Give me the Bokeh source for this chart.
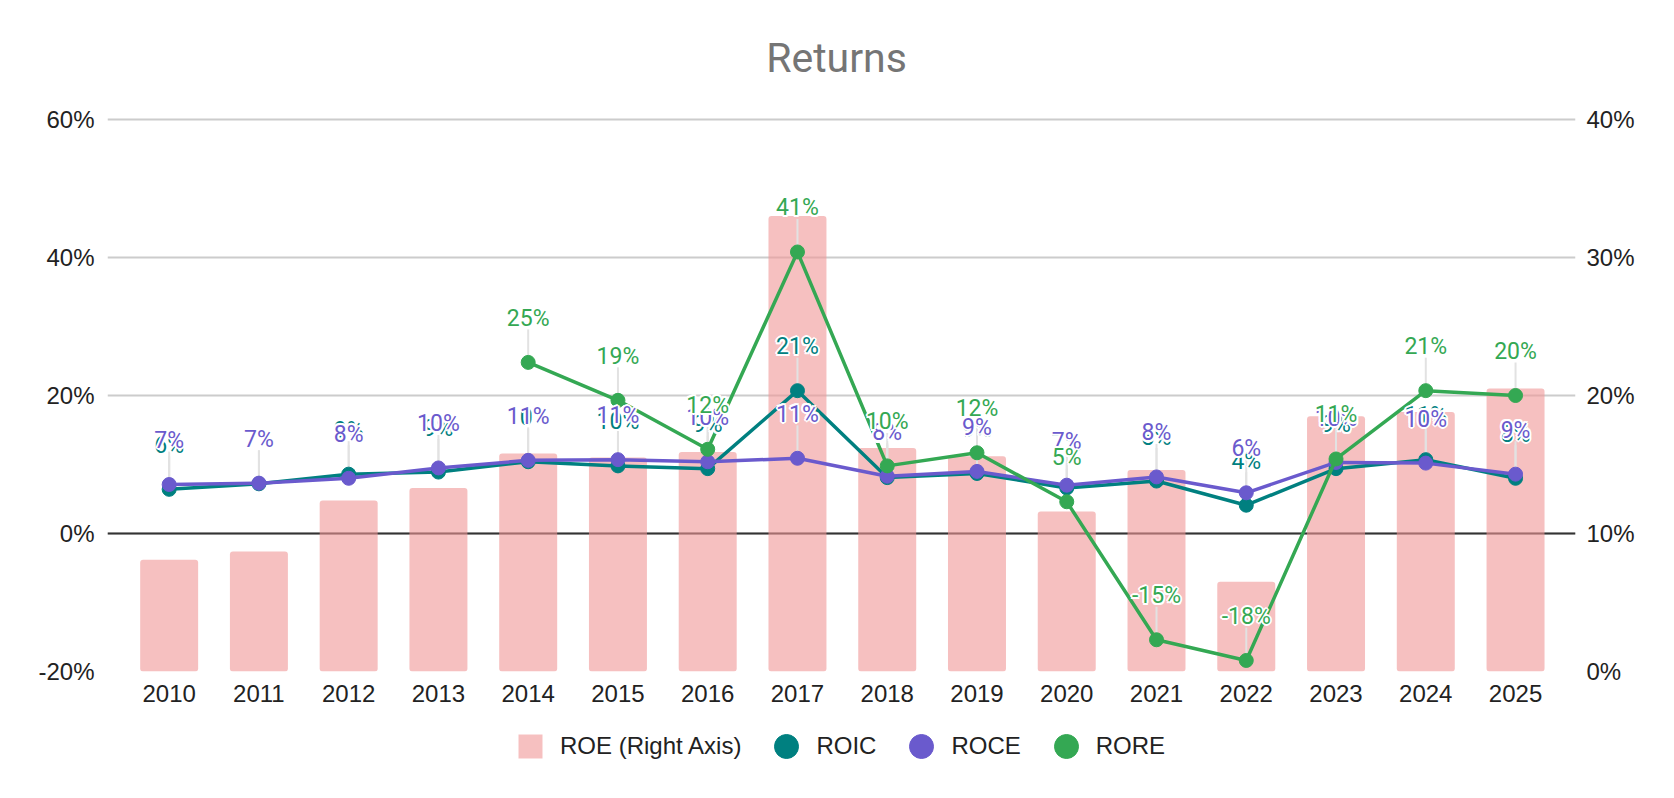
import math
from bokeh.plotting import figure
from bokeh.layouts import column
from bokeh.models import (Range1d, LinearAxis, FixedTicker, PrintfTickFormatter,
                          Span, Label, Legend, LegendItem, ColumnDataSource)
from bokeh.core.properties import value
from bokeh.embed import file_html
from bokeh.resources import INLINE

NAN = float("nan")

# ---------------- data ----------------
years = [2010, 2011, 2012, 2013, 2014, 2015, 2016, 2017,
         2018, 2019, 2020, 2021, 2022, 2023, 2024, 2025]
roe = [8.1, 8.7, 12.4, 13.3, 15.8, 15.5, 15.9, 33.0,
       16.2, 15.6, 11.6, 14.6, 6.5, 18.5, 18.8, 20.5]          # right axis
roic = [6.4, 7.2, 8.6, 8.9, 10.4, 9.8, 9.4, 20.7,
        8.1, 8.7, 6.6, 7.6, 4.1, 9.4, 10.7, 8.0]
roce = [7.1, 7.3, 8.0, 9.5, 10.6, 10.7, 10.4, 10.9,
        8.3, 9.0, 7.0, 8.2, 5.9, 10.3, 10.2, 8.6]
rore = [NAN, NAN, NAN, NAN, 24.8, 19.3, 12.2, 40.8,
        9.8, 11.7, 4.6, -15.4, -18.4, 10.8, 20.7, 20.0]
left_ticks = [-20, 0, 20, 40, 60]
right_ticks = [0, 10, 20, 30, 40]
title_text = "Returns"
series_names = ["ROE (Right Axis)", "ROIC", "ROCE", "RORE"]

# ---------------- styling ----------------
C_BAR = (240, 150, 150)
C_ROIC = "#008080"
C_ROCE = "#6a5acd"
C_RORE = "#34a853"
TICK_FONT = "Liberation Sans"
LABEL_FONT = "Roboto"

W = 1658
H1 = 718                               # main chart (frame + x labels)
H2 = 64                                # legend strip
BL, BR = 107, 83
FRAME_BOTTOM_PX = 671
BB = H1 - FRAME_BOTTOM_PX
FRAME_H = H1 - BB                      # frame reaches the top of the canvas
GRID_TOP_PX = 119                      # pixel row of the top gridline
UNITS_PER_PX = (left_ticks[-1] - left_ticks[0]) / (FRAME_H - GRID_TOP_PX)
y_top = left_ticks[-1] + GRID_TOP_PX * UNITS_PER_PX
ratio = (right_ticks[-1] - right_ticks[0]) / (left_ticks[-1] - left_ticks[0])
r_top = right_ticks[0] + (y_top - left_ticks[0]) * ratio

p = figure(width=W, height=H1, output_backend="svg", toolbar_location=None,
           x_range=Range1d(2009.313, 2025.668),
           y_range=Range1d(left_ticks[0], y_top),
           min_border_left=BL, min_border_right=BR,
           min_border_top=0, min_border_bottom=BB,
           background_fill_color="white", border_fill_color="white",
           outline_line_color=None)
p.extra_y_ranges = {"right": Range1d(right_ticks[0], r_top)}

# axes
xa = p.xaxis[0]
xa.ticker = FixedTicker(ticks=years)
xa.formatter = PrintfTickFormatter(format="%d")
ya = p.yaxis[0]
ya.ticker = FixedTicker(ticks=left_ticks)
ya.formatter = PrintfTickFormatter(format="%d%%")
ra = LinearAxis(y_range_name="right", ticker=FixedTicker(ticks=right_ticks),
                formatter=PrintfTickFormatter(format="%d%%"))
p.add_layout(ra, "right")
for ax, st in ((xa, 13), (ya, 13), (ra, 11)):
    ax.axis_line_color = None
    ax.major_tick_line_color = None
    ax.minor_tick_line_color = None
    ax.major_tick_out = 0
    ax.major_tick_in = 0
    ax.minor_tick_out = 0
    ax.major_label_text_font = TICK_FONT
    ax.major_label_text_font_size = "24px"
    ax.major_label_text_color = "#222222"
    ax.major_label_standoff = st

p.xgrid.grid_line_color = None
p.ygrid.grid_line_color = "#cccccc"
p.ygrid.grid_line_width = 2

p.add_layout(Span(location=0, dimension="width", line_color="#333333",
                  line_width=2, level="underlay"))

# bars (right axis)
p.vbar(x=years, top=roe, bottom=right_ticks[0], width=0.646, y_range_name="right",
       fill_color=C_BAR, fill_alpha=0.6, line_color=None, border_radius=3)

series = [(roic, C_ROIC), (roce, C_ROCE), (rore, C_RORE)]

# leader lines from point to label
lead = UNITS_PER_PX * 33
for vals, col in series:
    xs = [x for x, v in zip(years, vals) if not math.isnan(v)]
    vs = [v for v in vals if not math.isnan(v)]
    p.segment(x0=xs, y0=vs, x1=xs, y1=[v + lead for v in vs],
              line_color="#e2e2e2", line_width=2)

# lines + markers
for vals, col in series:
    p.line(years, vals, line_color=col, line_width=3.5)
    p.scatter(years, vals, size=14, fill_color=col, line_color=col, marker="circle")

# data labels with a white halo
halo = [(2, 0), (-2, 0), (0, 2), (0, -2), (1.4, 1.4), (1.4, -1.4), (-1.4, 1.4), (-1.4, -1.4)]
for vals, col in series:
    xs = [x for x, v in zip(years, vals) if not math.isnan(v)]
    vs = [v for v in vals if not math.isnan(v)]
    txt = ["%d%%" % round(v) for v in vs]
    src = ColumnDataSource(dict(x=xs, y=vs, t=txt))
    for dx, dy in halo:
        p.text(x="x", y="y", text="t", source=src, text_font=value(LABEL_FONT),
               text_font_size="23px", text_color="white", text_align="center",
               text_baseline="middle", x_offset=dx, y_offset=-44 + dy)
    p.text(x="x", y="y", text="t", source=src, text_font=value(LABEL_FONT),
           text_font_size="23px", text_color=col, text_align="center",
           text_baseline="middle", y_offset=-44)

# title (inside the frame's white top strip)
p.add_layout(Label(x=2017.435, y=left_ticks[-1] + (GRID_TOP_PX - 57.5) * UNITS_PER_PX,
                   text=title_text, text_font=LABEL_FONT,
                   text_font_size="41px", text_color="#757575",
                   text_align="center", text_baseline="middle"))

# ---------------- legend strip ----------------
q = figure(width=W, height=H2, output_backend="svg", toolbar_location=None,
           x_range=Range1d(0, 1), y_range=Range1d(0, 1),
           x_axis_type=None, y_axis_type=None,
           min_border_left=0, min_border_right=0, min_border_top=0, min_border_bottom=0,
           background_fill_color="white", border_fill_color="white",
           outline_line_color=None)
q.grid.visible = False
leg_rs = [q.scatter(x=[NAN], y=[NAN], marker="square", fill_color=C_BAR,
                    fill_alpha=0.6, line_color=None)]
for vals, col in series:
    leg_rs.append(q.scatter(x=[NAN], y=[NAN], marker="circle", fill_color=col,
                            line_color=col))
items = [LegendItem(label=n, renderers=[r]) for n, r in zip(series_names, leg_rs)]
legend = Legend(items=items, orientation="horizontal", location=(393, 6),
                glyph_width=60, glyph_height=60, label_standoff=0, spacing=15,
                padding=0, margin=0, border_line_color=None,
                background_fill_alpha=0, label_text_font=TICK_FONT,
                label_text_font_size="24px", label_text_color="#222222")
q.add_layout(legend, "center")

layout = column(p, q, spacing=0)
open("out.html", "w").write(file_html(layout, INLINE))
